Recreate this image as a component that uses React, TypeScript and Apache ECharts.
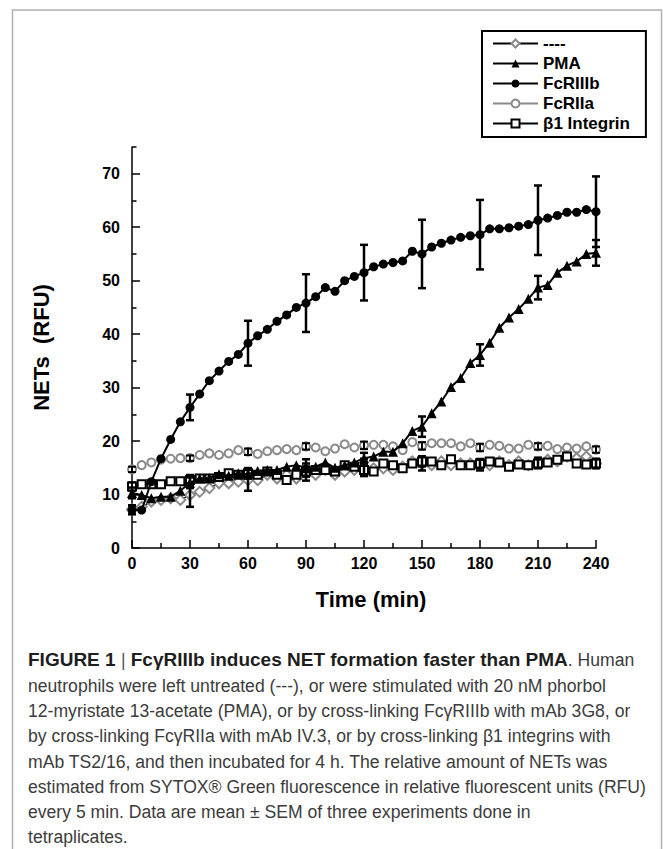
import React, { useEffect, useRef } from "react";
import * as echarts from "echarts";

// ---------- data ----------
const TIMES: number[] = Array.from({ length: 49 }, (_, i) => i * 5); // 0..240 min every 5 min (sampling grid)

const UNTREATED: number[] = [
  7.2, 7.7, 8.7, 9.0, 9.3, 9.0, 9.9, 10.5, 11.2, 12.1, 12.1, 12.4, 12.7, 12.7, 13.7, 13.0, 13.7,
  13.0, 14.6, 13.7, 14.6, 13.7, 14.3, 14.6, 15.2, 14.9, 14.9, 14.6, 15.2, 16.2, 15.8, 15.5, 16.2,
  15.5, 15.8, 15.8, 15.5, 15.5, 16.2, 15.5, 16.2, 15.5, 15.9, 16.5, 16.2, 17.1, 16.8, 17.1, 15.8,
];
const PMA: number[] = [
  10.3, 9.9, 9.3, 9.6, 9.6, 10.7, 12.2, 13.0, 13.1, 13.8, 13.5, 14.0, 13.8, 14.4, 14.6, 14.6, 15.2,
  15.5, 15.0, 15.2, 16.0, 15.0, 15.5, 16.0, 16.8, 17.1, 18.0, 18.0, 19.6, 21.9, 22.7, 25.2, 27.4,
  30.1, 31.8, 34.6, 36.1, 38.4, 41.2, 43.1, 44.7, 46.6, 48.7, 49.2, 51.5, 52.8, 53.6, 55.0, 55.2,
];
const FCRIIIB: number[] = [
  7.1, 7.1, 12.4, 16.7, 20.3, 23.6, 26.3, 28.8, 31.3, 33.1, 34.9, 36.2, 38.3, 39.7, 40.9, 42.4, 43.6,
  45.0, 45.8, 47.0, 48.7, 48.0, 50.0, 50.8, 51.5, 52.6, 53.1, 53.4, 53.7, 55.5, 55.0, 56.3, 57.0,
  57.6, 58.1, 58.4, 58.6, 59.7, 59.7, 59.9, 60.2, 60.5, 61.3, 61.7, 62.2, 62.8, 62.8, 63.3, 62.9,
];
const FCRIIA: number[] = [
  14.7, 15.5, 16.0, 16.5, 16.7, 16.8, 16.8, 17.4, 17.7, 17.4, 17.7, 18.3, 18.0, 17.6, 18.1, 18.3, 18.5,
  18.3, 19.0, 18.8, 18.1, 18.6, 19.4, 18.8, 19.2, 19.3, 19.3, 19.0, 18.3, 19.8, 19.1, 19.6, 19.6,
  19.6, 19.0, 19.6, 18.8, 19.3, 19.1, 18.6, 18.6, 19.3, 19.0, 19.1, 18.5, 18.8, 18.6, 19.0, 18.4,
];
const B1INT: number[] = [
  11.5, 11.9, 11.9, 11.9, 12.5, 12.5, 12.7, 13.0, 13.0, 13.3, 14.0, 13.7, 14.0, 13.7, 14.3, 13.7, 12.7,
  13.7, 14.3, 14.6, 14.6, 14.3, 15.5, 15.2, 14.6, 14.3, 15.8, 15.5, 14.9, 15.8, 16.2, 16.2, 15.5,
  16.6, 15.5, 15.5, 15.8, 16.2, 16.0, 15.2, 15.6, 15.5, 15.8, 16.0, 16.5, 17.1, 15.8, 15.6, 15.8,
];

// SEM error bars, shown every 30 min
const ERR_TIMES: number[] = [0, 30, 60, 90, 120, 150, 180, 210, 240];
const SEM_UNTREATED: number[] = [0.8, 2.2, 2.0, 2.0, 1.5, 1.3, 1.0, 1.0, 0.9];
const SEM_PMA: number[] = [1.0, 1.0, 0.8, 0.8, 1.0, 1.9, 2.0, 2.2, 2.4];
const SEM_FCRIIIB: number[] = [0.8, 2.4, 4.2, 5.4, 5.2, 6.4, 6.5, 6.5, 6.6];
const SEM_FCRIIA: number[] = [0.5, 0.5, 0.6, 0.6, 0.7, 0.7, 0.7, 0.6, 0.6];
const SEM_B1INT: number[] = [0.8, 1.0, 1.0, 1.0, 1.2, 1.0, 0.9, 0.8, 0.8];

const LEGEND_NAMES: string[] = ["----", "PMA", "FcRIIIb", "FcRIIa", "β1 Integrin"];

const X_MAJOR_TICKS: number[] = [0, 30, 60, 90, 120, 150, 180, 210, 240];
const Y_MAJOR_TICKS: number[] = [0, 10, 20, 30, 40, 50, 60, 70];
const Y_MINOR_TICKS: number[] = [5, 15, 25, 35, 45, 55, 65, 75];

const X_TITLE = "Time (min)";
const Y_TITLE = "NETs  (RFU)";

const CAPTION_LINES: string[] = [
  "neutrophils were left untreated (---), or were stimulated with 20 nM phorbol",
  "12-myristate 13-acetate (PMA), or by cross-linking FcγRIIIb with mAb 3G8, or",
  "by cross-linking FcγRIIa with mAb IV.3, or by cross-linking β1 integrins with",
  "mAb TS2/16, and then incubated for 4 h. The relative amount of NETs was",
  "estimated from SYTOX® Green fluorescence in relative fluorescent units (RFU)",
  "every 5 min. Data are mean ± SEM of three experiments done in",
  "tetraplicates.",
];

const FONT = "'Liberation Sans', Arial, Helvetica, sans-serif";

export default function App() {
  const ref = useRef<HTMLDivElement | null>(null);

  useEffect(() => {
    if (!ref.current) return;
    const chart = echarts.init(ref.current, undefined, { renderer: "svg" });

    const pair = (vals: number[]) => TIMES.map((t, i) => [t, vals[i]]);

    const errData: number[][] = [];
    const addErr = (vals: number[], sems: number[], w: number) => {
      ERR_TIMES.forEach((t, i) => {
        const v = vals[TIMES.indexOf(t)];
        errData.push([t, v - sems[i], v + sems[i], w]);
      });
    };
    addErr(FCRIIA, SEM_FCRIIA, 2);
    addErr(UNTREATED, SEM_UNTREATED, 2.5);
    addErr(B1INT, SEM_B1INT, 2);
    addErr(PMA, SEM_PMA, 2.5);
    addErr(FCRIIIB, SEM_FCRIIIB, 2.5);

    const CAP_SIZE = 17.6;
    const CAP_BOLD = 19;
    const captionGraphics: any[] = [
      {
        type: "text",
        left: 28,
        top: 650,
        style: {
          text: "{b|FIGURE 1 }{p||}{b| FcγRIIIb induces NET formation faster than PMA}{r|. Human}",
          rich: {
            b: { fontFamily: FONT, fontSize: CAP_BOLD, fontWeight: "bold", fill: "#1e1e1e" },
            p: { fontFamily: FONT, fontSize: CAP_SIZE, fill: "#555" },
            r: { fontFamily: FONT, fontSize: CAP_SIZE, fill: "#3c3c3c" },
          },
        },
      },
      ...CAPTION_LINES.map((line, i) => ({
        type: "text",
        left: 28,
        top: 677 + i * 25.2,
        style: { text: line, fontFamily: FONT, fontSize: CAP_SIZE, fill: "#3c3c3c" },
      })),
    ];

    const option: any = {
      animation: false,
      backgroundColor: "#fff",
      grid: { left: 132, right: 67, top: 147, bottom: 301, containLabel: false },
      legend: {
        data: LEGEND_NAMES,
        orient: "vertical",
        left: 482,
        top: 31,
        itemWidth: 45,
        itemHeight: 10,
        itemGap: 3,
        padding: [4, 16, 5, 10],
        borderColor: "#000",
        borderWidth: 2,
        itemStyle: { borderWidth: 1 },
        textStyle: { fontFamily: FONT, fontSize: 17, fontWeight: "bold", color: "#000" },
      },
      xAxis: {
        type: "value",
        min: 0,
        max: 240,
        interval: 30,
        name: X_TITLE,
        nameLocation: "middle",
        nameGap: 40,
        nameTextStyle: { fontFamily: FONT, fontSize: 22, fontWeight: "bold", color: "#000", padding: [0, 0, 0, 14] },
        axisLine: { show: true, onZero: false, lineStyle: { color: "#000", width: 1.5 } },
        axisTick: { show: true, inside: true, length: 8, customValues: X_MAJOR_TICKS, lineStyle: { color: "#000", width: 1.5 } },
        minorTick: { show: true, splitNumber: 2, length: 5, lineStyle: { color: "#000", width: 1.5 } },
        axisLabel: { margin: 7, fontFamily: FONT, fontSize: 16, fontWeight: "bold", color: "#000", customValues: X_MAJOR_TICKS },
        splitLine: { show: false },
      },
      yAxis: [
        {
          type: "value",
          min: 0,
          max: 75,
          position: "left",
          name: Y_TITLE,
          nameLocation: "middle",
          nameGap: 80,
          nameTextStyle: { fontFamily: FONT, fontSize: 22, fontWeight: "bold", color: "#000" },
          axisLine: { show: true, onZero: false, lineStyle: { color: "#000", width: 1.5 } },
          axisTick: { show: true, inside: true, length: 8, customValues: Y_MAJOR_TICKS, lineStyle: { color: "#000", width: 1.5 } },
          axisLabel: { margin: 12, fontFamily: FONT, fontSize: 16, fontWeight: "bold", color: "#000", customValues: Y_MAJOR_TICKS },
          splitLine: { show: false },
        },
        {
          type: "value",
          min: 0,
          max: 75,
          position: "left",
          axisLine: { show: false },
          axisTick: { show: true, inside: true, length: 4.5, customValues: Y_MINOR_TICKS, lineStyle: { color: "#000", width: 1.5 } },
          axisLabel: { show: false },
          splitLine: { show: false },
        },
      ],
      series: [
        {
          name: "FcRIIa",
          type: "line",
          data: pair(FCRIIA),
          symbol: "emptyCircle",
          symbolSize: 8,
          showAllSymbol: true,
          lineStyle: { color: "#8a8a8a", width: 1 },
          itemStyle: { color: "#8a8a8a", borderWidth: 1 },
          z: 2,
        },
        {
          name: "----",
          type: "line",
          data: pair(UNTREATED),
          symbol: "emptyDiamond",
          symbolSize: 10,
          showAllSymbol: true,
          lineStyle: { color: "#000", width: 1.5 },
          itemStyle: { color: "#8a8a8a", borderWidth: 1 },
          z: 3,
        },
        {
          name: "β1 Integrin",
          type: "line",
          data: pair(B1INT),
          symbol: "emptyRect",
          symbolSize: 8,
          showAllSymbol: true,
          lineStyle: { color: "#000", width: 1 },
          itemStyle: { color: "#000", borderWidth: 1 },
          z: 4,
        },
        {
          name: "PMA",
          type: "line",
          data: pair(PMA),
          symbol: "triangle",
          symbolSize: 10,
          showAllSymbol: true,
          lineStyle: { color: "#000", width: 2 },
          itemStyle: { color: "#000" },
          z: 5,
        },
        {
          name: "FcRIIIb",
          type: "line",
          data: pair(FCRIIIB),
          symbol: "circle",
          symbolSize: 9,
          showAllSymbol: true,
          lineStyle: { color: "#000", width: 2 },
          itemStyle: { color: "#000" },
          z: 6,
        },
        {
          type: "custom",
          data: errData,
          encode: { x: 0, y: [1, 2] },
          z: 7,
          silent: true,
          renderItem: (params: any, api: any) => {
            const x = api.value(0);
            const lo = api.coord([x, api.value(1)]);
            const hi = api.coord([x, api.value(2)]);
            const w = api.value(3);
            const h = 4;
            const st = { stroke: "#000", lineWidth: w };
            return {
              type: "group",
              children: [
                { type: "line", shape: { x1: lo[0], y1: lo[1], x2: hi[0], y2: hi[1] }, style: st },
                { type: "line", shape: { x1: lo[0] - h, y1: lo[1], x2: lo[0] + h, y2: lo[1] }, style: st },
                { type: "line", shape: { x1: hi[0] - h, y1: hi[1], x2: hi[0] + h, y2: hi[1] }, style: st },
              ],
            };
          },
        },
      ],
      graphic: [
        {
          type: "polyline",
          shape: { points: [[12.5, 849], [12.5, 10], [661.5, 10], [661.5, 849]] },
          style: { stroke: "#b0b0b0", lineWidth: 1.5, fill: "none" },
          silent: true,
        },
        ...captionGraphics,
      ],
    };

    chart.setOption(option);
    return () => chart.dispose();
  }, []);

  return (
    <div
      ref={ref}
      style={{ position: "absolute", left: 0, top: 0, width: 663, height: 849, background: "#fff" }}
    />
  );
}
